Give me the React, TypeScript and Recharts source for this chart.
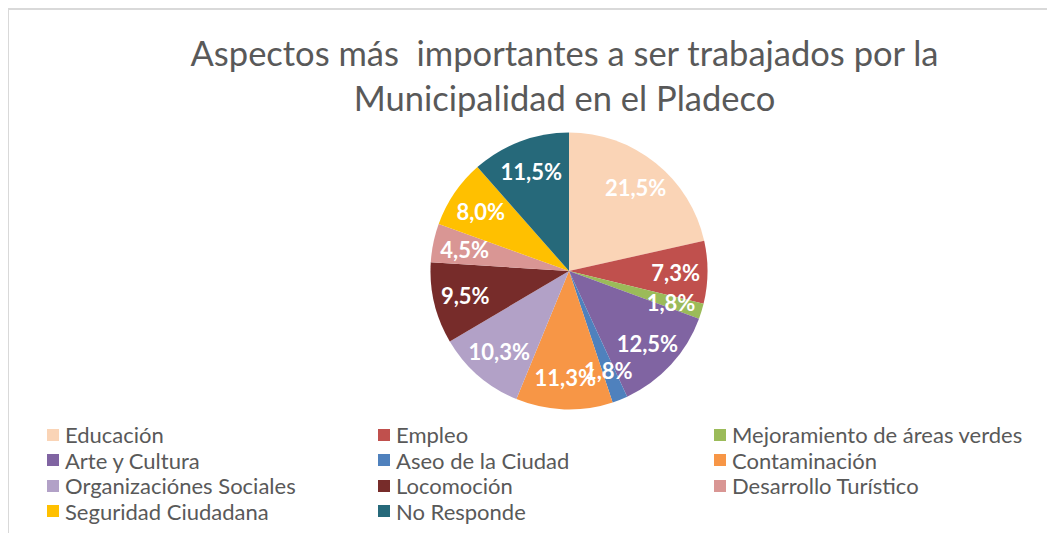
import { PieChart, Pie, Cell, Legend } from "recharts";

const categories = [
  "Educación",
  "Empleo",
  "Mejoramiento de áreas verdes",
  "Arte y Cultura",
  "Aseo de la Ciudad",
  "Contaminación",
  "Organizaciónes Sociales",
  "Locomoción",
  "Desarrollo Turístico",
  "Seguridad Ciudadana",
  "No Responde",
];

const percentages = [21.5, 7.3, 1.8, 12.5, 1.8, 11.3, 10.3, 9.5, 4.5, 8.0, 11.5];

const sliceColors = [
  "#FAD4B6", // Educación
  "#C0504D", // Empleo
  "#9BBB59", // Mejoramiento
  "#8064A2", // Arte y Cultura
  "#4F81BD", // Aseo
  "#F79646", // Contaminación
  "#B2A1C7", // Organizaciones
  "#772C2A", // Locomoción
  "#D99694", // Desarrollo Turístico
  "#FFC000", // Seguridad
  "#26697A", // No Responde
];

const pieData = categories.map((name, i) => ({ name, value: percentages[i] }));

const RADIAN = Math.PI / 180;
const FONT = "Lato, 'Open Sans', sans-serif";

// white bold percent labels placed inside the slice
const renderLabel = ({ cx, cy, midAngle, outerRadius, value }: any) => {
  const r = outerRadius * 0.77;
  const x = cx + r * Math.cos(-midAngle * RADIAN);
  const y = cy + r * Math.sin(-midAngle * RADIAN);
  return (
    <text
      x={x}
      y={y}
      fill="#ffffff"
      textAnchor="middle"
      dominantBaseline="central"
      fontFamily={FONT}
      fontWeight={700}
      fontSize={22}
    >
      {value.toFixed(1).replace(".", ",") + "%"}
    </text>
  );
};

const colLefts = [38, 369, 705];

// legend keeps the data order (3 columns, row by row)
const renderLegend = () => (
  <div style={{ position: "relative", width: 1047, height: 110 }}>
    {categories.map((name, i) => (
      <div
        key={`leg-${i}`}
        style={{
          position: "absolute",
          left: colLefts[i % 3],
          top: Math.floor(i / 3) * 25.5,
          height: 25.5,
          display: "flex",
          alignItems: "center",
          whiteSpace: "nowrap",
        }}
      >
        <span
          style={{
            display: "inline-block",
            width: 12,
            height: 12,
            background: sliceColors[i],
            marginRight: 6,
          }}
        />
        <span style={{ fontFamily: FONT, fontSize: 22, color: "#595959" }}>{name}</span>
      </div>
    ))}
  </div>
);

export default function App() {
  return (
    <div
      style={{
        position: "relative",
        width: 1060,
        height: 540,
        borderTop: "2px solid #D9D9D9",
        borderLeft: "2px solid #D9D9D9",
        boxSizing: "border-box",
        margin: "0 0 0 -1px",
      }}
    >
      <div
        style={{
          position: "absolute",
          left: 0,
          top: 20,
          width: 1111,
          textAlign: "center",
          fontFamily: FONT,
          fontSize: 34.5,
          lineHeight: "45px",
          color: "#595959",
          whiteSpace: "pre",
        }}
      >
        {"Aspectos más  importantes a ser trabajados por la\nMunicipalidad en el Pladeco"}
      </div>
      <div style={{ position: "absolute", left: 0, top: 0 }}>
        <PieChart width={1047} height={525}>
          <Pie
            data={pieData}
            dataKey="value"
            nameKey="name"
            cx={555}
            cy={256}
            outerRadius={138.5}
            startAngle={90}
            endAngle={-270}
            stroke="none"
            labelLine={false}
            label={renderLabel}
            isAnimationActive={false}
          >
            {pieData.map((entry, index) => (
              <Cell key={`cell-${index}`} fill={sliceColors[index % sliceColors.length]} />
            ))}
          </Pie>
          <Legend
            content={renderLegend}
            wrapperStyle={{ position: "absolute", left: 0, top: 412, width: 1047 }}
          />
        </PieChart>
      </div>
    </div>
  );
}
